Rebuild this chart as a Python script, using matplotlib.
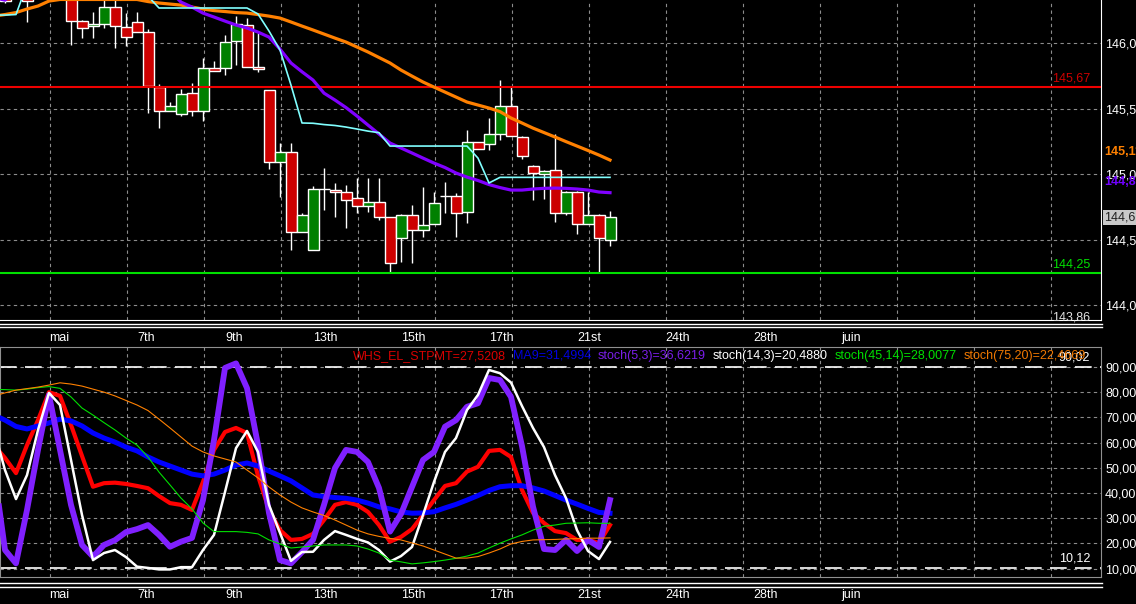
import matplotlib
matplotlib.use('Agg')
import matplotlib.pyplot as plt
from matplotlib.patches import Rectangle
from matplotlib.lines import Line2D
from matplotlib.transforms import blended_transform_factory as blend

plt.rcParams['font.family'] = ['Liberation Sans', 'DejaVu Sans']

# ---- price bars (index 0 = first bar fully on screen) ----
bar_start = -6
opens = [146.45, 146.40, 146.45, 146.40, 146.55, 146.48,
         146.36, 146.168, 146.132, 146.147, 146.275, 146.127, 146.160, 146.089, 145.664, 145.483,
         145.458, 145.623, 145.483, 145.814, 145.809, 146.018, 146.140, 145.817, 145.644, 145.092,
         145.173, 144.562, 144.420, 144.885, 144.880, 144.863, 144.817, 144.760, 144.786, 144.672,
         144.511, 144.689, 144.575, 144.618, 144.834, 144.837, 144.710, 145.249, 145.229, 145.308,
         145.524, 145.287, 145.066, 145.002, 145.033, 144.702, 144.863, 144.618, 144.687, 144.498]
highs = [146.52, 146.55, 146.50, 146.62, 146.64, 146.66,
         146.40, 146.178, 146.239, 146.34, 146.33, 146.23, 146.241, 146.109, 145.689, 145.552,
         145.651, 145.697, 145.888, 145.867, 146.063, 146.208, 146.191, 146.079, 145.644, 145.241,
         145.241, 144.707, 144.911, 145.046, 144.934, 144.918, 144.972, 144.972, 144.972, 144.676,
         144.700, 144.766, 144.905, 144.867, 144.944, 144.860, 145.338, 145.250, 145.427, 145.720,
         145.664, 145.290, 145.070, 145.030, 145.308, 144.870, 144.870, 144.867, 144.700, 144.720]
lows = [146.31, 146.36, 146.16, 146.36, 146.40, 146.42,
        145.987, 146.040, 146.040, 146.117, 145.964, 145.982, 146.089, 145.468, 145.356, 145.483,
        145.447, 145.447, 145.409, 145.789, 145.758, 145.834, 145.817, 145.783, 145.040, 144.829,
        144.422, 144.562, 144.420, 144.727, 144.676, 144.590, 144.705, 144.714, 144.651, 144.244,
        144.333, 144.321, 144.524, 144.618, 144.702, 144.519, 144.626, 145.191, 145.185, 145.262,
        145.292, 145.117, 144.804, 144.809, 144.638, 144.690, 144.544, 144.618, 144.244, 144.455]
closes = [146.32, 146.50, 146.32, 146.55, 146.48, 146.60,
          146.170, 146.115, 146.147, 146.275, 146.132, 146.046, 146.089, 145.674, 145.483, 145.524,
          145.615, 145.483, 145.814, 145.789, 146.012, 146.145, 145.817, 145.802, 145.092, 145.173,
          144.562, 144.689, 144.885, 144.885, 144.863, 144.804, 144.760, 144.786, 144.676, 144.321,
          144.689, 144.575, 144.613, 144.779, 144.834, 144.702, 145.249, 145.191, 145.308, 145.524,
          145.292, 145.142, 145.008, 145.027, 144.702, 144.867, 144.618, 144.687, 144.511, 144.672]

# ---- moving averages on price (index -7 .. 49) ----
line_start = -7
ma_cyan = [146.216, 146.216, 146.22] + [146.45] * 11 + [146.36] + [146.27] * 9 + \
    [146.224, 146.094, 145.949, 145.681, 145.392, 145.39, 145.38, 145.373, 145.361, 145.346,
     145.33, 145.318] + [145.216] * 8 + [145.124, 144.934] + [144.977] * 11
ma_orange = [146.208, 146.220, 146.235, 146.262, 146.285, 146.323] + [146.335] * 8 + \
    [146.319, 146.308, 146.300, 146.292, 146.277, 146.262, 146.250, 146.243, 146.235, 146.231,
     146.220, 146.208, 146.193, 146.163, 146.132, 146.102, 146.071, 146.040, 146.010, 145.972,
     145.934, 145.892, 145.850, 145.796, 145.750, 145.705, 145.666, 145.628, 145.590, 145.552,
     145.529, 145.506, 145.479, 145.430, 145.392, 145.353, 145.319, 145.285, 145.250, 145.216,
     145.182, 145.147, 145.109]
ma_purple = [146.35, 146.33] + [146.40] * 15 + \
    [146.315, 146.277, 146.231, 146.201, 146.170, 146.140, 146.117, 146.086, 146.048, 145.956,
     145.850, 145.783, 145.720, 145.620, 145.567, 145.510, 145.445, 145.376, 145.308, 145.239,
     145.201, 145.163, 145.124, 145.086, 145.052, 145.010, 144.979, 144.953, 144.922, 144.899,
     144.880, 144.880, 144.888, 144.893, 144.895, 144.893, 144.888, 144.880, 144.865, 144.860]
level_hi = 145.67
level_lo = 144.25

# ---- oscillators (index -7 .. 49) ----
whs = [59.0, 53.9, 47.9, 59.0, 68.9, 80.0, 78.5, 67.0, 54.7, 42.5, 43.9, 44.1, 43.6, 42.8, 41.9,
       38.8, 36.0, 35.3, 33.3, 44.4, 57.1, 64.2, 65.8, 63.8, 46.8, 33.3, 25.3, 21.4, 21.8, 23.8,
       29.3, 35.3, 36.4, 35.3, 32.5, 27.3, 20.7, 22.6, 25.7, 31.3, 37.2, 42.8, 43.9, 48.5, 50.4,
       56.7, 57.1, 54.3, 41.2, 32.1, 28.1, 24.9, 24.1, 21.4, 21.4, 20.2, 27.3]
ma9 = [70.9, 68.9, 66.4, 65.4, 66.6, 67.8, 69.3, 68.6, 66.6, 63.8, 61.8, 60.2, 58.2, 56.7, 54.3,
       52.3, 50.7, 49.1, 47.5, 46.8, 47.5, 49.1, 51.1, 51.9, 50.7, 48.7, 46.8, 44.8, 42.0, 39.2,
       38.6, 38.2, 37.9, 37.2, 36.0, 34.5, 33.7, 32.5, 32.0, 32.1, 32.6, 34.1, 35.5, 37.2, 39.0,
       41.0, 42.5, 42.9, 42.9, 42.0, 40.8, 39.0, 37.2, 35.6, 33.9, 32.3, 32.0]
stoch_5_3 = [49.1, 17.4, 12.1, 33.3, 57.1, 78.9, 57.1, 35.3, 19.4, 14.8, 19.4, 21.3, 24.5, 25.7,
             27.3, 23.4, 18.7, 20.7, 22.2, 37.2, 61.0, 89.6, 91.4, 81.6, 59.0, 32.1, 13.4, 12.1,
             16.6, 21.4, 35.3, 49.9, 57.1, 56.3, 52.3, 42.0, 24.7, 31.7, 42.4, 53.1, 56.3, 66.3,
             68.9, 74.2, 75.6, 85.6, 84.8, 78.1, 58.6, 34.6, 17.8, 17.4, 21.4, 17.0, 21.4, 18.6, 37.2]
stoch_14_3 = [65.0, 49.1, 37.6, 47.1, 65.0, 79.7, 74.9, 53.1, 31.3, 13.4, 16.2, 17.4, 14.6, 10.8,
              10.3, 9.7, 9.7, 10.6, 10.6, 17.4, 23.4, 40.4, 57.8, 64.6, 56.3, 35.3, 24.2, 13.1,
              16.6, 16.7, 21.4, 24.9, 23.4, 21.8, 20.4, 17.4, 12.8, 15.0, 18.6, 31.3, 44.4, 56.3,
              61.8, 72.9, 78.9, 88.8, 87.5, 83.8, 74.5, 65.8, 58.2, 47.1, 38.0, 25.3, 17.0, 13.8, 20.6]
stoch_45_14 = [81.1, 81.0, 80.8, 81.2, 81.8, 82.2, 81.5, 78.1, 73.7, 70.9, 67.9, 65.0, 61.8, 59.0,
               54.3, 48.3, 43.2, 38.0, 33.7, 28.1, 24.7, 24.7, 24.7, 24.4, 23.8, 21.4, 19.8, 18.2,
               18.6, 19.0, 19.4, 19.4, 19.4, 19.0, 17.8, 16.2, 13.4, 12.7, 11.9, 12.3, 12.8, 13.4,
               14.1, 15.0, 16.2, 18.2, 20.1, 21.8, 23.4, 25.3, 26.8, 27.3, 28.0, 28.1, 28.2, 28.0, 28.0]
stoch_75_20 = [78.5, 79.7, 80.8, 81.4, 82.0, 82.8, 83.7, 83.2, 82.4, 81.2, 80.0, 78.5, 76.7, 74.9,
               72.7, 69.3, 65.8, 62.2, 58.6, 56.3, 54.7, 53.5, 52.3, 49.1, 46.0, 42.4, 39.2, 36.4,
               34.1, 32.5, 31.1, 29.3, 27.3, 25.3, 23.8, 22.8, 22.0, 21.4, 20.2, 19.0, 17.4, 15.8,
               14.2, 14.2, 14.8, 16.2, 17.8, 19.8, 20.8, 21.4, 21.5, 21.6, 21.8, 21.9, 22.1, 22.1, 22.2]
osc_hi = 90.02
osc_lo = 10.12

date_labels = ['mai', '7th', '9th', '13th', '15th', '17th', '21st', '24th', '28th', 'juin']
legend_items = [('WHS_EL_STPMT=27,5208', '#d80000'), ('MA9=31,4994', '#0000e0'),
                ('stoch(5,3)=36,6219', '#7a1ee8'), ('stoch(14,3)=20,4880', 'white'),
                ('stoch(45,14)=28,0077', '#00e000'), ('stoch(75,20)=22,4669', '#f07800')]

W, H = 1136, 604
fig = plt.figure(figsize=(W / 100, H / 100), dpi=100, facecolor='black')
ax = fig.add_axes([0, 1 - 320 / H, 1101 / W, 320 / H], facecolor='black')
ax2 = fig.add_axes([0, 27 / H, 1101 / W, 230 / H], facecolor='black')

xmin, xmax = -71 / 11, (1101 - 71) / 11
line_x = list(range(line_start, line_start + len(ma_cyan)))
bar_x = list(range(bar_start, bar_start + len(opens)))
grid_x = [-1.9 + 7 * k for k in range(15)]
label_x = [-2 + 8 * k for k in range(len(date_labels))]

gridkw = dict(color='#8c8c8c', lw=0.8, ls=(0, (3, 3)), zorder=1)

# ---- price panel ----
for g in grid_x:
    ax.axvline(g, **gridkw)
for p in [144.0, 144.5, 145.0, 145.5, 146.0]:
    ax.axhline(p, **gridkw)

for x, o, h, l, c in zip(bar_x, opens, highs, lows, closes):
    ax.vlines(x, l, h, color='white', lw=1, zorder=3)
    col = '#008000' if c > o else '#cc0000'
    ax.add_patch(Rectangle((x - 0.5, min(o, c)), 1.0, abs(c - o), facecolor=col,
                           edgecolor='white', lw=1, zorder=4))

ax.axhline(level_hi, color='#ee0000', lw=1.5, zorder=5)
ax.axhline(level_lo, color='#00e000', lw=1.5, zorder=5)
ax.plot(line_x, ma_orange, color='#ff8000', lw=2.3, zorder=6)
ax.plot(line_x, ma_purple, color='#8000ff', lw=2.3, zorder=6)
ax.plot(line_x, ma_cyan, color='#80ffff', lw=1.2, zorder=7)

ax.set_xlim(xmin, xmax)
ax.set_ylim(143.888, 146.331)
ax.set_xticks([])
ax.yaxis.tick_right()
ax.set_yticks([144.0, 144.5, 145.0, 145.5, 146.0])
ax.set_yticklabels(['144,00', '144,50', '145,00', '145,50', '146,00'])
ax.tick_params(axis='y', length=0, pad=3, labelcolor='white', labelsize=9)
for s in ['top', 'left']:
    ax.spines[s].set_visible(False)
ax.spines['right'].set_color('white')
ax.spines['bottom'].set_color('white')

tr = blend(ax.transAxes, ax.transData)
ax.text(0.99, level_hi + 0.015, '145,67', color='#cc0000', fontsize=9, ha='right', va='bottom', transform=tr)
ax.text(0.99, level_lo + 0.015, '144,25', color='#00e000', fontsize=9, ha='right', va='bottom', transform=tr)
ax.text(0.99, 143.86, '143,86', color='#e0e0e0', fontsize=9, ha='right', va='bottom', transform=tr)
ax.text(1.003, 145.174, '145,11', color='#ff8000', fontsize=9, fontweight='bold', va='center',
        transform=tr, clip_on=False)
ax.text(1.003, 144.938, '144,86', color='#7000ff', fontsize=9, fontweight='bold', va='center',
        transform=tr, clip_on=False)
ax.text(1.003, 144.670, '144,67', color='#202020', fontsize=9, va='center', transform=tr, clip_on=False,
        bbox=dict(boxstyle='square,pad=0.1', facecolor='#c8c8c8', edgecolor='none'))

# ---- oscillator panel ----
for g in grid_x:
    ax2.axvline(g, **gridkw)
for v in range(10, 100, 10):
    ax2.axhline(v, **gridkw)
ax2.axhline(osc_hi, color='white', lw=1.2, ls=(0, (10, 5)), zorder=2)
ax2.axhline(osc_lo, color='white', lw=1.2, ls=(0, (10, 5)), zorder=2)

ax2.plot(line_x, whs, color='#ff0000', lw=3.0, zorder=3)
ax2.plot(line_x, ma9, color='#0000ff', lw=3.6, zorder=3)
ax2.plot(line_x, stoch_5_3, color='#8020ff', lw=4.2, zorder=4)
ax2.plot(line_x, stoch_14_3, color='white', lw=1.8, zorder=5)
ax2.plot(line_x, stoch_45_14, color='#00e000', lw=0.8, zorder=6)
ax2.plot(line_x, stoch_75_20, color='#ff8000', lw=0.8, zorder=6)

ax2.set_xlim(xmin, xmax)
ax2.set_ylim(6.7, 97.9)
ax2.set_xticks([])
ax2.yaxis.tick_right()
ax2.set_yticks(list(range(10, 100, 10)))
ax2.set_yticklabels(['%d,00' % v for v in range(10, 100, 10)])
ax2.tick_params(axis='y', length=0, pad=3, labelcolor='white', labelsize=9)
for s in ax2.spines.values():
    s.set_color('#909090')

tr2 = blend(ax2.transAxes, ax2.transData)
ax2.text(0.99, osc_hi + 1.5, '90,02', color='white', fontsize=9, ha='right', va='bottom', transform=tr2)
ax2.text(0.99, osc_lo + 1.5, '10,12', color='white', fontsize=9, ha='right', va='bottom', transform=tr2)

legend_px = [353, 513, 598, 713, 835, 964]
for (txt, col), px in zip(legend_items, legend_px):
    fig.text(px / W, 1 - 356 / H, txt, color=col, fontsize=9, va='center', ha='left')

# ---- date rows and separators ----
for axis, ypx in [(ax, 338), (ax2, 595)]:
    t = blend(axis.transData, fig.transFigure)
    for lx, lab in zip(label_x, date_labels):
        axis.text(lx, 1 - ypx / H, lab, color='white', fontsize=9, ha='left', va='center',
                  transform=t, clip_on=False)

for ypx in [323.5, 326.7, 583.3, 586.7]:
    fig.add_artist(Line2D([0, 1102 / W], [1 - ypx / H] * 2, color='white', lw=1,
                          transform=fig.transFigure))

fig.savefig('out.png', dpi=100, facecolor='black')
